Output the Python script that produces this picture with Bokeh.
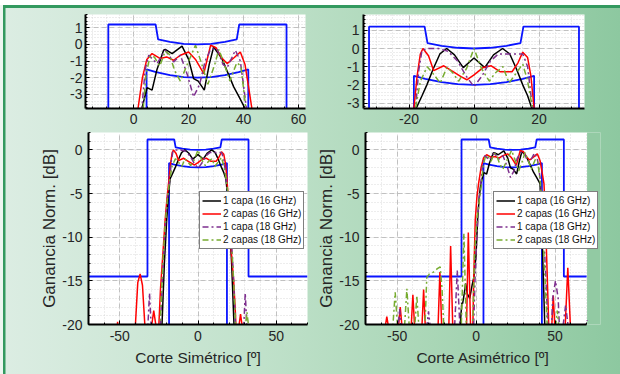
from bokeh.plotting import figure
from bokeh.models import FixedTicker, Legend, LegendItem, Range1d, Row, Column, BoxAnnotation
from bokeh.embed import file_html
from bokeh.resources import INLINE

FONT = "Liberation Sans"
TXT = "#262626"

SERIES_LABELS = ["1 capa (16 GHz)", "2 capas (16 GHz)", "1 capa (18 GHz)", "2 capas (18 GHz)"]
SERIES_COLORS = ["#000000", "#ff0000", "#7e2f8e", "#77ac30"]
SERIES_DASH = ["solid", "solid", "6 3 2 3", "6 3 2 3"]
MASK_COLOR = "#0a14ff"

# ---------------- Symmetric cut (bottom-left plot, top-right zoom) ----------------
S_black_x = [-70, -26, -24, -23, -21.5, -20, -18.8, -17.8, -16, -14.5, -12.5, -10.5, -8.4, -6, -3.3, 0,
             3.3, 6, 8.8, 11, 13, 15, 16.5, 17.8, 18.8, 20, 21.5, 23, 24, 70]
S_black_y = [-40, -40, -24, -20, -13, -8, -5, -3.3, -2.6, -2.0, -1.1, -0.3, 0, -0.35, -1.05, -0.52,
             -1.05, -0.35, 0, -0.3, -1.1, -2.0, -2.6, -3.3, -5, -8, -13, -20, -24, -40]

S_red_x = [-70, -53, -52.2, -51.4, -50.6, -50, -42, -40, -38.5, -37, -35.5, -34, -32, -29.5, -28.3, -27, -26,
           -25, -24, -22.5, -21, -19.8, -18.5, -17.5, -16.5, -15.7, -14, -12.4, -9.3, -6.2, -4, -2.2, 0,
           2.8, 5.3, 8.1, 11.7, 13.5, 15, 16.5, 17.5, 18.5, 19.5, 21, 22.8, 24, 25, 26.3, 27.2, 28.1, 29, 70]
S_red_y = [-40, -30, -22, -19.7, -22, -30, -30, -20, -15.2, -14.2, -15.5, -20, -30, -20, -18.4, -20, -26,
           -20, -16, -12, -8, -5.5, -3.3, -1.5, -0.3, 0, -0.4, -1.22, -0.95, -1.3, -1.55, -1.72, -1.45,
           -1.05, -0.95, -1.28, -1.28, -0.8, -0.2, -0.5, -1.5, -3.3, -6, -11, -15, -19, -25, -20, -18.8, -20, -26, -40]

S_purple_x = [-70, -33, -32, -31, -30, -29, -26, -24, -22.5, -21, -19.5, -18, -17, -16, -14, -11, -8, -5, -2.5, 0,
              2.5, 5, 7.5, 10, 13, 15, 16.5, 18, 19.5, 21, 22.5, 24, 26, 28.5, 29.3, 30.2, 31.2, 32, 70]
S_purple_y = [-40, -30, -20, -16.4, -20, -30, -30, -20, -14, -9, -5.5, -3.3, -1.2, -0.1, 0, 0, -0.15, -0.7, -1.5, -2.1,
              -1.5, -0.7, -0.3, -0.3, -0.3, -0.3, -1.0, -3.3, -5.5, -9, -14, -20, -30, -30, -20, -16.4, -20, -30, -40]

S_green_x = [-70, -26, -24.2, -22.5, -21, -19.5, -18, -16.5, -14.4, -12.5, -10.4, -8.3, -6.5, -4.7, -2.3, 0,
             2.3, 4.7, 6.5, 8.9, 10.8, 12.8, 15, 16.5, 18, 19.5, 21, 22.5, 24, 25.5, 29.5, 30.4, 31.3, 32.2, 33, 70]
S_green_y = [-40, -40, -20, -13, -8.5, -5.5, -3.3, -1.8, -1.0, -1.4, -1.9, -1.03, -1.35, -1.8, -1.1, 0,
             -1.1, -1.8, -1.35, -1.0, -1.9, -1.4, -0.85, -1.8, -3.3, -5.5, -9, -14, -20, -30, -30, -20, -18.6, -20, -30, -40]

# ---------------- Asymmetric cut (bottom-right plot, top-left zoom) ----------------
A_black_x = [-70, -12, -10.5, -10, -9, -8.5, -7.5, -6.6, -5.5, -4, -2.5, -1.4, 0, 1, 2, 3, 4.9, 6.7, 8.5, 10.9,
             11.5, 14, 17.6, 20, 21.8, 23.5, 25.7, 27.5, 29.1, 32.1, 34.5, 36.4, 38.5, 40.5, 41.5, 42.5, 43.5, 44.5, 70]
A_black_y = [-40, -40, -25, -20, -17.5, -17.6, -16.5, -15.3, -16.5, -17, -15.5, -14.6, -12, -8, -5.5, -3.85, -2.6,
             -2.75, -1.5, -0.35, -0.3, -0.55, -0.1, -0.9, -2.05, -2.2, -2.75, -1.2, -0.15, -0.85, -1.8, -2.55, -3.2,
             -3.85, -8, -14, -20, -30, -40]

A_red_x = [-70, -58, -57.3, -56.5, -55.7, -55, -50, -49, -48, -47, -46, -42, -41, -40, -39, -38, -35, -34.2, -33.2,
           -32.2, -31.5, -25, -24, -22.9, -21.8, -20.5, -18, -17.2, -16.1, -14.8, -14, -7, -6, -4.9, -3.5, -2.5,
           -1.5, -0.5, 0.5, 1.6, 3.2, 4.8, 6.7, 9.7, 12, 14.5, 17, 20, 22.5, 25.5, 28, 30, 32, 34, 36.5, 38.8,
           40.5, 41.8, 43, 44, 45, 46, 47, 48, 48.9, 49.8, 51, 55, 56.5, 58.1, 59.7, 61, 70]
A_red_y = [-40, -30, -20, -19.1, -20, -30, -30, -20, -18.0, -20, -30, -30, -20, -16.6, -20, -30, -30, -20, -16.0,
           -20, -30, -30, -20, -14.0, -20, -30, -30, -20, -11.0, -20, -30, -30, -20, -9.45, -20, -25,
           -15, -8, -5.5, -3.85, -2.0, -0.9, -0.55, -0.85, -0.75, -0.95, -0.65, -0.45, -0.9, -1.75, -0.05, -0.2,
           -0.8, -1.15, -0.8, -0.45, -1.2, -2.55, -3.85, -8, -14, -20, -30, -20, -16.7, -20, -30, -30, -20, -13.5,
           -20, -30, -40]

A_purple_x = [-70, -50, -49.2, -48.4, -47.6, -46.8, -32, -31, -30.1, -29.2, -28.4, -15, -13.5, -11.9, -10.3, -9,
              -3, -1.5, -0.5, 0.5, 1.5, 3, 4.2, 5.5, 8.5, 11.5, 14.5, 17, 19.5, 21.8, 24, 26, 28, 30.3, 32.5, 34,
              37, 38.8, 40, 41, 42.5, 44, 45.5, 46.5, 47.5, 48.5, 50.3, 52, 53.2, 54, 55.2, 56.7, 58.2, 59, 68.5,
              69.5, 70.4]
A_purple_y = [-40, -30, -20, -18.2, -20, -30, -30, -20, -18.5, -20, -30, -30, -20, -13.8, -20, -30,
              -30, -20, -14, -10, -6.5, -3.85, -1.5, -0.65, -1.15, -0.35, -1.05, -0.65, -1.8, -3.15, -2.4, -1.0,
              -0.3, -0.25, -1.2, -1.4, -0.35, -1.0, -2.5, -3.85, -8, -14, -20, -30, -22, -17, -15.0, -17, -22,
              -30, -20, -17.8, -20, -30, -30, -20, -19.5]

A_green_x = [-70, -54, -52.6, -51.2, -49.8, -48.5, -46, -45.2, -43.8, -42.4, -41, -39.5, -38.7, -37.5, -36.3,
             -35.5, -33, -32.3, -31.2, -29.5, -27, -24.5, -22.7, -21.5, -20.5, -19.5, -10.5, -9.3, -7.7, -6.2, -5,
             -2, -1, 0.5, 2, 3.5, 4.5, 6, 7.5, 9.5, 11.5, 13, 15, 17, 19.5, 22.5, 25, 27, 29.5, 31, 33, 35, 37.5,
             39, 40, 40.8, 42, 43.5, 45, 46, 49.5, 50.5, 51.4, 52.3, 53, 70]
A_green_y = [-40, -30, -20, -16.3, -20, -30, -30, -20, -15.9, -20, -30, -30, -20, -16.7, -20, -30, -30, -20,
             -14.6, -14.2, -14.0, -13.6, -13.4, -16, -20, -30, -30, -20, -9.6, -20, -30, -20, -12, -8, -6, -3.85,
             -1.8, -0.7, -0.75, -1.3, -0.4, -0.6, -1.6, -2.2, -1.2, -0.05, -1.3, -2.4, -1.2, -0.3, -1.2, -2.2,
             -1.1, -1.3, -2.7, -3.85, -8, -14, -20, -30, -30, -20, -18.4, -20, -30, -40]

# ---------------- Masks ----------------
MASK_UP_Y = [-14.5, -14.5, 1.2, 1.2, 0.3, 0.15, 0.04, 0, 0.04, 0.15, 0.3, 1.2, 1.2, -14.5, -14.5]
MASK_LO_Y = [-30, -1.5, -1.67, -1.85, -1.96, -2.0, -1.96, -1.85, -1.67, -1.5, -30]
S_up_x = [-70, -32.3, -32.3, -15.2, -14.3, -10, -5, 0, 5, 10, 14.3, 15.2, 32.3, 32.3, 70]
S_lo_x = [-18.5, -18.5, -15, -10, -5, 0, 5, 10, 15, 18.5, 18.5]
A_up_x = [-70, -9.2, -9.2, 8.0, 8.9, 13.2, 18.2, 23.2, 28.2, 33.2, 37.5, 38.4, 55.6, 55.6, 70]
A_lo_x = [4.7, 4.7, 8.2, 13.2, 18.2, 23.2, 28.2, 33.2, 38.2, 41.7, 41.7]

SYM = [(S_black_x, S_black_y), (S_red_x, S_red_y), (S_purple_x, S_purple_y), (S_green_x, S_green_y)]
ASY = [(A_black_x, A_black_y), (A_red_x, A_red_y), (A_purple_x, A_purple_y), (A_green_x, A_green_y)]

MAIN_XT = [-50, 0, 50]
MAIN_XM = list(range(-70, 71, 10))
MAIN_YT = [-20, -15, -10, -5, 0]
MAIN_YM = list(range(-20, 3, 1))
TL_XT = [0, 20, 40, 60]
TL_XM = list(range(-15, 61, 5))
TR_XT = [-20, 0, 20]
TR_XM = list(range(-30, 31, 5))
IN_YT = [-3, -2, -1, 0, 1]
IN_YM = [v / 5 for v in range(-20, 10)]


def make_fig(w, h, xr, yr, bl, br, bt, bb):
    p = figure(width=w, height=h, x_range=Range1d(*xr), y_range=Range1d(*yr),
               output_backend="svg", toolbar_location=None, tools="",
               min_border_left=bl, min_border_right=br, min_border_top=bt, min_border_bottom=bb)
    p.title.visible = False
    p.outline_line_color = None
    p.background_fill_color = "white"
    p.border_fill_alpha = 0
    return p


def style(p, xt, xm, yt, ym, xstand, ystand):
    xtk = FixedTicker(ticks=xt, minor_ticks=xm)
    ytk = FixedTicker(ticks=yt, minor_ticks=ym)
    p.xaxis.ticker = xtk
    p.yaxis.ticker = ytk
    p.xgrid.ticker = xtk
    p.ygrid.ticker = ytk
    p.xaxis.major_label_overrides = {t: str(t) for t in xt}
    p.yaxis.major_label_overrides = {t: str(t) for t in yt}
    for ax in (p.xaxis[0], p.yaxis[0]):
        ax.axis_line_width = 2
        ax.axis_line_color = "black"
        ax.major_tick_in = 4
        ax.major_tick_out = 0
        ax.minor_tick_in = 2
        ax.minor_tick_out = 0
        ax.major_tick_line_color = "black"
        ax.minor_tick_line_color = "black"
        ax.major_label_text_font = FONT
        ax.major_label_text_font_size = "14px"
        ax.major_label_text_color = TXT
        ax.axis_label_text_font = FONT
        ax.axis_label_text_font_style = "normal"
        ax.axis_label_text_color = TXT
    p.xaxis.axis_label_text_font_size = "15.5px"
    p.yaxis.axis_label_text_font_size = "17px"
    p.xaxis.axis_label_standoff = 5
    p.yaxis.axis_label_standoff = 0
    p.xaxis.major_label_standoff = xstand
    p.yaxis.major_label_standoff = ystand
    for g in (p.xgrid[0], p.ygrid[0]):
        g.grid_line_color = "#b4b4b4"
        g.grid_line_alpha = 0.8
        g.grid_line_dash = "5 3"
        g.minor_grid_line_color = "#d2d2d2"
        g.minor_grid_line_alpha = 0.8
        g.minor_grid_line_dash = "1 2"


def draw(p, up_x, lo_x, series):
    p.line(up_x, MASK_UP_Y, line_color=MASK_COLOR, line_width=1.8)
    p.line(lo_x, MASK_LO_Y, line_color=MASK_COLOR, line_width=1.8)
    rs = []
    for (x, y), c, d in zip(series, SERIES_COLORS, SERIES_DASH):
        rs.append(p.line(x, y, line_color=c, line_dash=d, line_width=1.5))
    return rs


def add_legend(p, rs, loc):
    lg = Legend(items=[LegendItem(label=l, renderers=[r]) for l, r in zip(SERIES_LABELS, rs)],
                location=loc)
    lg.border_line_color = "black"
    lg.border_line_width = 1
    lg.background_fill_color = "white"
    lg.background_fill_alpha = 1
    lg.label_text_font = FONT
    lg.label_text_font_size = "10px"
    lg.label_text_color = "#111111"
    lg.glyph_width = 19
    lg.glyph_height = 13
    lg.label_height = 13
    lg.label_standoff = 2
    lg.spacing = 0
    lg.padding = 2
    lg.margin = 0
    p.add_layout(lg)


# top-left zoom (asymmetric data)
tl = make_fig(310, 128, (-17.5, 62.5), (-3.85, 1.8), 85, 5, 14, 20)
style(tl, TL_XT, TL_XM, IN_YT, IN_YM, 5, 3)
draw(tl, A_up_x, A_lo_x, ASY)

# top-right zoom (symmetric data)
tr = make_fig(310, 128, (-34, 34), (-3.3, 1.87), 53, 36, 14, 20)
style(tr, TR_XT, TR_XM, IN_YT, IN_YM, 5, 4)
draw(tr, S_up_x, S_lo_x, SYM)

# bottom-left main (symmetric)
bl = make_fig(310, 246, (-70, 70), (-20, 2), 88, 3, 4, 50)
style(bl, MAIN_XT, MAIN_XM, MAIN_YT, MAIN_YM, 6, 6)
bl.xaxis.axis_label = "Corte Simétrico [º]"
bl.yaxis.axis_label = "Ganancia Norm. [dB]"
rs_bl = draw(bl, S_up_x, S_lo_x, SYM)
add_legend(bl, rs_bl, (111, 75))

# bottom-right main (asymmetric); frame widened a little so the legend can overhang the axes
br = make_fig(310, 246, (-70, 78.8), (-20, 2), 55, 20, 4, 50)
style(br, MAIN_XT, MAIN_XM, MAIN_YT, MAIN_YM, 6, 6)
br.xaxis.bounds = (-70, 70)
br.xgrid.bounds = (-70, 70)
br.add_layout(BoxAnnotation(left=70.3, right=90, bottom=-30, top=10, fill_color="#92caa3",
                            fill_alpha=1, line_color=None, level="underlay"))
br.xaxis.axis_label = "Corte Asimétrico [º]"
br.yaxis.axis_label = "Ganancia Norm. [dB]"
rs_br = draw(br, A_up_x, A_lo_x, ASY)
add_legend(br, rs_br, (128, 75))

BG = ("linear-gradient(#ffffff,#ffffff) 0 0 / 100% 5px no-repeat, "
      "linear-gradient(#33995f,#33995f) 3px 5px / 100% 3px no-repeat, "
      "linear-gradient(#eef6f1,#eef6f1) 0 0 / 3px 100% no-repeat, "
      "linear-gradient(#33995f,#33995f) 3px 5px / 2.5px 100% no-repeat, "
      "linear-gradient(#33995f,#33995f) 0 131px / 4px 2px no-repeat, "
      "linear-gradient(to right, #dcede3 0%, #c2e2cc 40%, #a9d6b6 70%, #8dc8a0 100%)")

layout = Column(Row(tl, tr), Row(bl, br), styles={"background": BG})

open("out.html", "w").write(file_html(layout, INLINE))
